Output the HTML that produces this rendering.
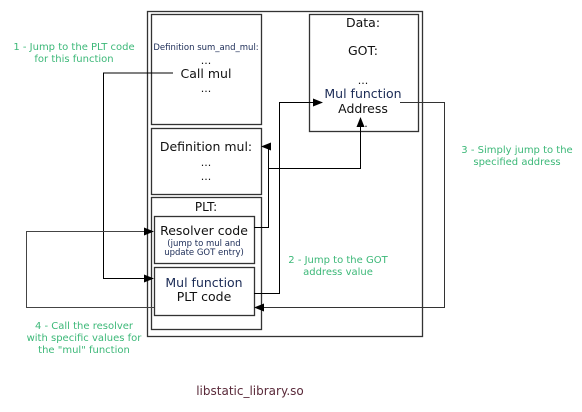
<!DOCTYPE html>
<html><head><meta charset="utf-8"><style>
html,body{margin:0;padding:0;background:#fff;}
svg{display:block;font-family:"DejaVu Sans","Liberation Sans",sans-serif;}
.g{fill:#3cb878;font-size:10px;}
</style></head><body>
<svg width="582" height="412" viewBox="0 0 582 412" xmlns="http://www.w3.org/2000/svg">
<defs><marker id="a" markerWidth="10" markerHeight="8" refX="9" refY="4" orient="auto" markerUnits="userSpaceOnUse"><path d="M0,0 L10,4 L0,8 z" fill="#000"/></marker></defs>
<g fill="none" stroke="#333" stroke-width="1.3">
<rect x="147.5" y="11.5" width="275" height="325"/>
<rect x="151.5" y="14.5" width="110" height="110"/>
<rect x="151.5" y="128.5" width="110" height="66"/>
<rect x="151.5" y="197.5" width="110" height="132"/>
<rect x="154.5" y="216.5" width="100" height="47"/>
<rect x="154.5" y="267.5" width="100" height="48"/>
<rect x="309.5" y="14.5" width="109" height="117"/>
</g>
<g fill="none" stroke="#000" stroke-width="1">
<polyline points="173,73 103.5,73 103.5,278.5 153,278.5" marker-end="url(#a)"/>
<polyline points="154,307.5 26.5,307.5 26.5,231.5 153,231.5" marker-end="url(#a)" stroke="#444"/>
<polyline points="254,227.5 268.5,227.5 268.5,146.5 262,146.5" marker-end="url(#a)"/>
<polyline points="268.5,168.5 360.5,168.5 360.5,118" marker-end="url(#a)"/>
<polyline points="254,293.5 279.5,293.5 279.5,102.5 322,102.5" marker-end="url(#a)"/>
<polyline points="400,102.5 444.5,102.5 444.5,307.5 255,307.5" marker-end="url(#a)" stroke="#333"/>
</g>
<g text-anchor="middle" fill="#111">
<text x="206" y="50" font-size="8.5" fill="#1a2a55">Definition sum_and_mul:</text>
<text x="206" y="64" font-size="11">...</text>
<text x="206" y="78" font-size="12.5">Call mul</text>
<text x="206" y="92" font-size="11">...</text>
<text x="206" y="151" font-size="12.5">Definition mul:</text>
<text x="206" y="166" font-size="11">...</text>
<text x="206" y="180" font-size="11">...</text>
<text x="206" y="211" font-size="12">PLT:</text>
<text x="204" y="235" font-size="12.5">Resolver code</text>
<text x="204" y="246" font-size="8.5" fill="#1a2a55">(jump to mul and</text>
<text x="204" y="255" font-size="8.5" fill="#1a2a55">update GOT entry)</text>
<text x="204" y="287" font-size="12.5" fill="#1a2a55">Mul function</text>
<text x="204" y="301" font-size="12.5">PLT code</text>
<text x="363" y="27" font-size="12.5">Data:</text>
<text x="363" y="55" font-size="12.5">GOT:</text>
<text x="363" y="84" font-size="11">...</text>
<text x="363" y="98" font-size="12.5" fill="#1a2a55">Mul function</text>
<text x="363" y="113" font-size="12.5">Address</text>
<text x="366" y="127" font-size="11">.</text>
<text class="g" x="74" y="50">1 - Jump to the PLT code</text>
<text class="g" x="74" y="62">for this function</text>
<text class="g" x="338" y="263">2 - Jump to the GOT</text>
<text class="g" x="338" y="275">address value</text>
<text class="g" x="517" y="153">3 - Simply jump to the</text>
<text class="g" x="517" y="165">specified address</text>
<text class="g" x="84" y="329">4 - Call the resolver</text>
<text class="g" x="84" y="341">with specific values for</text>
<text class="g" x="84" y="353">the "mul" function</text>
<text x="250" y="395" font-size="12" fill="#5a2a3a">libstatic_library.so</text>
</g>
</svg>
</body></html>
